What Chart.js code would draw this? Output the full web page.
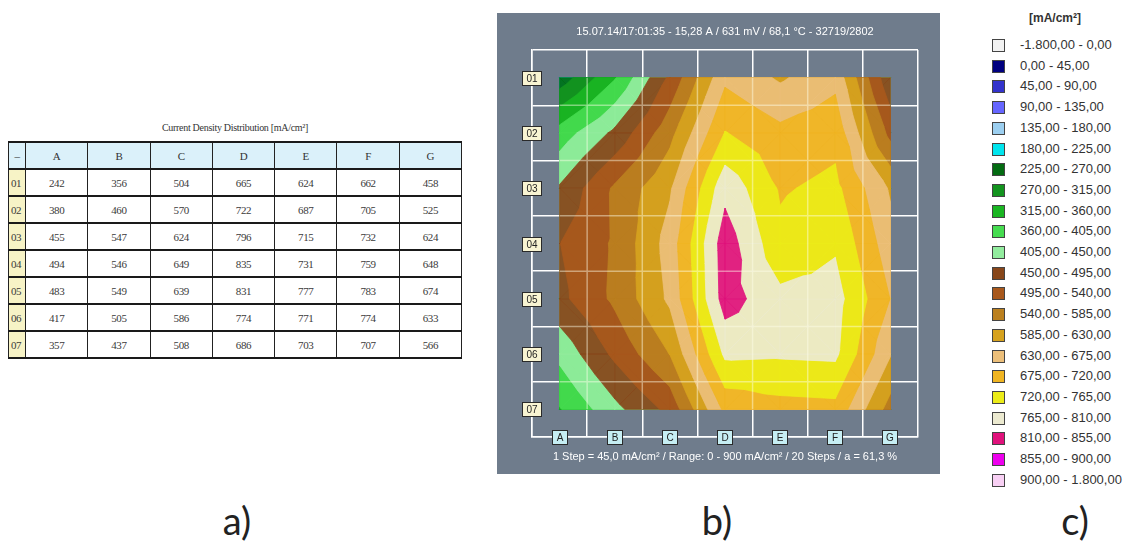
<!DOCTYPE html>
<html>
<head>
<meta charset="utf-8">
<script src="https://cdn.jsdelivr.net/npm/chart.js@4.4.0/dist/chart.umd.min.js"></script>
<style>
body { margin:0; width:1133px; height:560px; background:#fff; position:relative; overflow:hidden; font-family:"Liberation Sans", Arial, sans-serif; }
#tabTitle { position:absolute; left:8px; width:454px; top:122px; text-align:center; font:10px "Liberation Serif", serif; color:#333; letter-spacing:-0.3px; }
#tab { position:absolute; left:8px; top:141px; width:454px; table-layout:fixed; border-collapse:collapse; font:11px "Liberation Serif", serif; color:#3a3a3a; letter-spacing:-0.4px; }
#tab td { border-left:1px solid #222; border-right:1px solid #222; border-top:2px solid #1a1a1a; border-bottom:2px solid #1a1a1a; text-align:center; padding:0; height:25px; }
#tab tr.head td { background:#dbf1fa; color:#333; }
#tab td.corner { background:#b6b6d8; }
#tab td.rowlab { background:#f7f3c6; text-align:left; padding-left:2px; }
#mapBox { position:absolute; left:497px; top:13px; width:443px; height:461px; background:#6f7c8c; }
#legend { position:absolute; left:985px; top:8px; width:150px; font:13px "Liberation Sans", Arial, sans-serif; color:#333; }
#legend .ttl { font-weight:bold; font-size:12px; text-align:center; width:140px; height:22px; line-height:20px; }
#legend .item { position:absolute; left:0; height:20px; line-height:20px; white-space:nowrap; }
#legend .sw { position:absolute; left:7px; top:4px; width:11px; height:11px; border:1px solid #444; }
#legend .lb { position:absolute; left:35px; top:0; }
.tag { position:absolute; top:497px; font:38px Lato, "Open Sans", sans-serif; color:#222; width:60px; text-align:center; }
</style>
</head>
<body>
<div id="tabTitle">Current Density Distribution [mA/cm²]</div>
<table id="tab"></table>
<div id="mapBox"><canvas id="chartMapa"></canvas></div>
<div id="legend"></div>
<div class="tag" style="left:207px">a)</div>
<div class="tag" style="left:687px">b)</div>
<div class="tag" style="left:1045px">c)</div>
<script>
// measured current density per segment [mA/cm²]
const columns = ['A', 'B', 'C', 'D', 'E', 'F', 'G'];
const rows = ['01', '02', '03', '04', '05', '06', '07'];
const row01 = [242, 356, 504, 665, 624, 662, 458];
const row02 = [380, 460, 570, 722, 687, 705, 525];
const row03 = [455, 547, 624, 796, 715, 732, 624];
const row04 = [494, 546, 649, 835, 731, 759, 648];
const row05 = [483, 549, 639, 831, 777, 783, 674];
const row06 = [417, 505, 586, 774, 771, 774, 633];
const row07 = [357, 437, 508, 686, 703, 707, 566];
const values = [row01, row02, row03, row04, row05, row06, row07];

// colour steps of the map
const bandEdges = [-1800, 0, 45, 90, 135, 180, 225, 270, 315, 360, 405, 450, 495, 540, 585, 630, 675, 720, 765, 810, 855, 900, 1800];
const bandColors = ['#f2f2f2', '#00007f', '#3333cc', '#6666ff', '#9ccff0', '#00e5ee', '#036b12', '#13941f', '#1ab622', '#46dc50', '#92ec9e',
    '#87461a', '#a8581c', '#bb801f', '#d6a21e', '#ecbf7a', '#f0b522', '#ecec18', '#ecead0', '#e0127c', '#ee00ee', '#f8d0f4'];

const mapTitle = '15.07.14/17:01:35 - 15,28 A / 631 mV / 68,1 °C - 32719/2802';
const mapFooter = '1 Step = 45,0 mA/cm² / Range: 0 - 900 mA/cm² / 20 Steps / a = 61,3 %';
const legendTitle = '[mA/cm²]';

function fmt(n) {
    const neg = n < 0;
    let s = Math.abs(n).toFixed(2).replace('.', ',');
    let [ent, dec] = s.split(',');
    ent = ent.replace(/\B(?=(\d{3})+(?!\d))/g, '.');
    return (neg ? '-' : '') + ent + ',' + dec;
}

// table a)
const tab = document.getElementById('tab');
let html = '<colgroup><col style="width:17px">' + columns.map(() => '<col>').join('') + '</colgroup>';
html += '<tr class="head"><td class="corner">–</td>' + columns.map(c => '<td>' + c + '</td>').join('') + '</tr>';
rows.forEach((r, i) => {
    html += '<tr><td class="rowlab">' + r + '</td>' + values[i].map(v => '<td>' + v + '</td>').join('') + '</tr>';
});
tab.innerHTML = html;

// legend c)
const legend = document.getElementById('legend');
let lh = '<div class="ttl">' + legendTitle + '</div>';
bandColors.forEach((col, k) => {
    lh += '<div class="item" style="top:' + (27 + k * 20.7) + 'px"><span class="sw" style="background:' + col + '"></span>' +
        '<span class="lb">' + fmt(bandEdges[k]) + ' - ' + fmt(bandEdges[k + 1]) + '</span></div>';
});
legend.innerHTML = lh;

// keep the polygon part where v >= level (above) or v < level
function clipPoly(poly, level, above) {
    const out = [];
    for (let i = 0; i < poly.length; i++) {
        const a = poly[i], b = poly[(i + 1) % poly.length];
        const ina = above ? a.v >= level : a.v < level;
        const inb = above ? b.v >= level : b.v < level;
        if (ina) out.push(a);
        if (ina !== inb) {
            const t = (level - a.v) / (b.v - a.v);
            out.push({ x: a.x + t * (b.x - a.x), y: a.y + t * (b.y - a.y), v: level });
        }
    }
    return out;
}

const contourPlugin = {
    id: 'contour',
    beforeDatasetsDraw(chart) {
        const ctx = chart.ctx;
        const xs = chart.scales.x, ys = chart.scales.y;
        const pts = chart.data.datasets[0].data;
        const at = (c, r) => pts[r * columns.length + c];
        const tris = [];
        for (let r = 0; r < rows.length - 1; r++) {
            for (let c = 0; c < columns.length - 1; c++) {
                const p00 = at(c, r), p10 = at(c + 1, r), p01 = at(c, r + 1), p11 = at(c + 1, r + 1);
                const pc = { x: c + 0.5, y: r + 0.5, v: (p00.v + p10.v + p01.v + p11.v) / 4 };
                tris.push([p00, p10, pc], [p10, p11, pc], [p11, p01, pc], [p01, p00, pc]);
            }
        }
        ctx.save();
        ctx.globalAlpha = 0.93;
        ctx.lineJoin = 'round';
        for (let k = 0; k < bandColors.length; k++) {
            ctx.fillStyle = bandColors[k];
            ctx.strokeStyle = bandColors[k];
            ctx.lineWidth = 0.8;
            tris.forEach(tri => {
                const poly = clipPoly(tri, bandEdges[k], true);
                if (poly.length < 3) return;
                ctx.beginPath();
                poly.forEach((p, i) => {
                    const px = xs.getPixelForValue(p.x), py = ys.getPixelForValue(p.y);
                    if (i === 0) ctx.moveTo(px, py); else ctx.lineTo(px, py);
                });
                ctx.closePath();
                ctx.fill();
                ctx.stroke();
            });
        }
        ctx.globalAlpha = 1;
        // grid shows faintly through the field
        ctx.strokeStyle = 'rgba(255,255,235,0.45)';
        ctx.lineWidth = 1.5;
        ctx.beginPath();
        for (let k = 0; k < columns.length - 1; k++) {
            ctx.moveTo(xs.getPixelForValue(k + 0.5), ys.getPixelForValue(0));
            ctx.lineTo(xs.getPixelForValue(k + 0.5), ys.getPixelForValue(rows.length - 1));
        }
        for (let k = 0; k < rows.length - 1; k++) {
            ctx.moveTo(xs.getPixelForValue(0), ys.getPixelForValue(k + 0.5));
            ctx.lineTo(xs.getPixelForValue(columns.length - 1), ys.getPixelForValue(k + 0.5));
        }
        ctx.stroke();
        ctx.restore();
    },
    afterDraw(chart) {
        const ctx = chart.ctx;
        const xs = chart.scales.x, ys = chart.scales.y, area = chart.chartArea;
        ctx.save();
        ctx.font = '10px "Liberation Sans", Arial, sans-serif';
        ctx.textAlign = 'center';
        ctx.textBaseline = 'middle';
        ctx.lineWidth = 1;
        columns.forEach((c, i) => {
            const px = Math.round(xs.getPixelForValue(i)), py = Math.round(area.bottom);
            ctx.fillStyle = '#c6eef3';
            ctx.fillRect(px - 8, py - 7, 16, 15);
            ctx.strokeStyle = '#2a2a2a';
            ctx.strokeRect(px - 7.5, py - 6.5, 15, 14);
            ctx.fillStyle = '#222';
            ctx.fillText(c, px, py + 1);
        });
        rows.forEach((r, i) => {
            const px = Math.round(area.left), py = Math.round(ys.getPixelForValue(i));
            ctx.fillStyle = '#f8f4d2';
            ctx.fillRect(px - 10, py - 7, 20, 15);
            ctx.strokeStyle = '#2a2a2a';
            ctx.strokeRect(px - 9.5, py - 6.5, 19, 14);
            ctx.fillStyle = '#222';
            ctx.fillText(r, px, py + 1);
        });
        ctx.restore();
    }
};

const gridSteps = [-0.5, 0.5, 1.5, 2.5, 3.5, 4.5, 5.5, 6.5];
const points = [];
rows.forEach((r, ri) => columns.forEach((c, ci) => points.push({ x: ci, y: ri, v: values[ri][ci] })));

new Chart(document.getElementById('chartMapa'), {
    type: 'scatter',
    data: {
        datasets: [{ data: points, pointRadius: 0, pointHoverRadius: 0 }]
    },
    options: {
        responsive: true,
        maintainAspectRatio: false,
        animation: false,
        events: [],
        layout: { padding: { left: 35, right: 22, top: 0, bottom: 0 } },
        plugins: {
            legend: { display: false },
            tooltip: { enabled: false },
            title: {
                display: true, text: mapTitle, color: '#fff',
                font: { family: '"Liberation Sans", Arial, sans-serif', size: 11, weight: 'normal', lineHeight: 1.2 },
                padding: { top: 12.4, bottom: 11.4 }
            },
            subtitle: {
                display: true, position: 'bottom', text: mapFooter, color: '#fff',
                font: { family: '"Liberation Sans", Arial, sans-serif', size: 11, weight: 'normal', lineHeight: 1.2 },
                padding: { top: 13.4, bottom: 10.4 }
            }
        },
        scales: {
            x: {
                type: 'linear', min: -0.5, max: 6.5,
                afterBuildTicks: s => { s.ticks = gridSteps.map(v => ({ value: v })); },
                ticks: { display: false },
                grid: { color: '#fff', lineWidth: 1.5, drawTicks: false },
                border: { color: '#fff', width: 1.5 }
            },
            y: {
                type: 'linear', min: -0.5, max: 6.5, reverse: true,
                afterBuildTicks: s => { s.ticks = gridSteps.map(v => ({ value: v })); },
                ticks: { display: false },
                grid: { color: '#fff', lineWidth: 1.5, drawTicks: false },
                border: { color: '#fff', width: 1.5 }
            }
        }
    },
    plugins: [contourPlugin]
});
</script>
</body>
</html>
